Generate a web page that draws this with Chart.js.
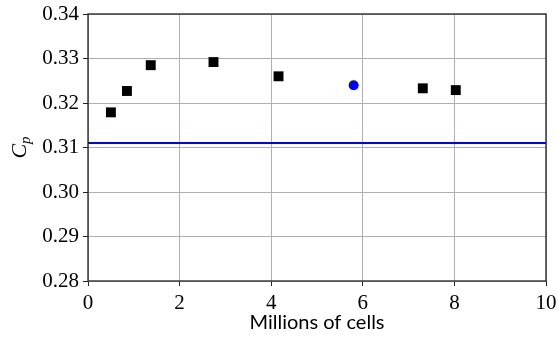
<!DOCTYPE html>
<html>
<head>
<meta charset="utf-8">
<script src="https://cdn.jsdelivr.net/npm/chart.js@4.4.0/dist/chart.umd.min.js"></script>
<style>
  html, body { margin: 0; padding: 0; background: #fff; }
  #wrap { width: 557px; height: 338px; }
</style>
</head>
<body>
<div id="wrap"><canvas id="myChart" width="557" height="338"></canvas></div>
<script>
// data
const cellsMillions = [0.50, 0.85, 1.37, 2.74, 4.16, 7.31, 8.03];
const cpValues = [0.3179, 0.3227, 0.3285, 0.3292, 0.3260, 0.3233, 0.3229];
const refCells = [5.80];
const refCp = [0.3240];
const lineCp = 0.311;
const xTicks = [0, 2, 4, 6, 8, 10];
const yTicks = [0.28, 0.29, 0.30, 0.31, 0.32, 0.33, 0.34];

const serif = "Liberation Serif, serif";
const sans = "Lato, sans-serif";

// box around the plot + y axis title with subscript
const framePlugin = {
  id: "frame",
  afterDraw(chart) {
    const { ctx, chartArea: a } = chart;
    ctx.save();
    ctx.strokeStyle = "#222";
    ctx.lineWidth = 1.3;
    ctx.strokeRect(a.left, a.top, a.right - a.left, a.bottom - a.top);
    ctx.translate(26, (a.top + a.bottom) / 2);
    ctx.rotate(-Math.PI / 2);
    ctx.fillStyle = "#000";
    ctx.textBaseline = "alphabetic";
    ctx.font = "italic 22px " + serif;
    const cw = ctx.measureText("C").width;
    ctx.font = "italic 15px " + serif;
    const pw = ctx.measureText("p").width;
    const start = -(cw + pw) / 2;
    ctx.font = "italic 22px " + serif;
    ctx.fillText("C", start, 0);
    ctx.font = "italic 15px " + serif;
    ctx.fillText("p", start + cw, 4);
    ctx.restore();
  }
};

const ctx = document.getElementById("myChart").getContext("2d");
const myChart = new Chart(ctx, {
  type: "scatter",
  data: {
    datasets: [
      {
        label: "reference",
        type: "line",
        data: [{ x: xTicks[0], y: lineCp }, { x: xTicks[xTicks.length - 1], y: lineCp }],
        borderColor: "#0000ff",
        borderWidth: 2,
        pointRadius: 0,
        fill: false
      },
      {
        label: "cells",
        data: cellsMillions.map((x, i) => ({ x: x, y: cpValues[i] })),
        pointStyle: "rect",
        pointRadius: 7,
        backgroundColor: "#000",
        borderColor: "#000",
        borderWidth: 0
      },
      {
        label: "chosen",
        data: refCells.map((x, i) => ({ x: x, y: refCp[i] })),
        pointStyle: "circle",
        pointRadius: 5,
        backgroundColor: "#0000ff",
        borderColor: "#0000ff",
        borderWidth: 0
      }
    ]
  },
  options: {
    responsive: false,
    animation: false,
    layout: { padding: { top: 14, right: 11, left: 0, bottom: 0 } },
    plugins: { legend: { display: false }, tooltip: { enabled: false } },
    scales: {
      x: {
        type: "linear",
        min: 0,
        max: 10,
        afterBuildTicks: s => { s.ticks = xTicks.map(v => ({ value: v })); },
        afterFit: s => { s.height = 57; s.paddingLeft = 0; s.paddingRight = 0; },
        grid: { color: "#b0b0b0", tickColor: "#222", tickLength: 5, lineWidth: 1 },
        border: { display: false },
        ticks: { color: "#000", font: { family: serif, size: 21 }, padding: 5, maxRotation: 0 },
        title: { display: true, text: "Millions of cells", color: "#000", font: { family: sans, size: 20 }, padding: { top: 0, bottom: 3 } }
      },
      y: {
        type: "linear",
        min: 0.28,
        max: 0.34,
        afterBuildTicks: s => { s.ticks = yTicks.map(v => ({ value: v })); },
        afterFit: s => { s.width = 88; s.paddingTop = 0; s.paddingBottom = 0; },
        grid: { color: "#b0b0b0", tickColor: "#222", tickLength: 5, lineWidth: 1 },
        border: { display: false },
        ticks: { color: "#000", font: { family: serif, size: 21 }, padding: 4, callback: v => v.toFixed(2) }
      }
    }
  },
  plugins: [framePlugin]
});
</script>
</body>
</html>
